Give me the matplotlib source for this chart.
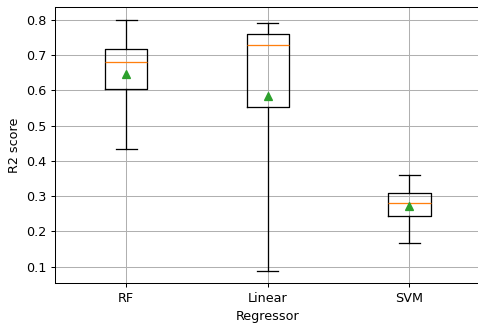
import matplotlib
matplotlib.use("Agg")
import matplotlib.pyplot as plt

labels = ["RF", "Linear", "SVM"]
whislo = [0.433, 0.088, 0.167]
q1 = [0.604, 0.553, 0.244]
med = [0.680, 0.728, 0.281]
q3 = [0.717, 0.759, 0.308]
whishi = [0.800, 0.790, 0.359]
means = [0.646, 0.585, 0.271]

stats = []
for i, lab in enumerate(labels):
    stats.append(dict(label=lab, whislo=whislo[i], q1=q1[i], med=med[i],
                      q3=q3[i], whishi=whishi[i], mean=means[i], fliers=[]))

DPI = 92
W, H = 478, 326
fig = plt.figure(figsize=(W / DPI, H / DPI), dpi=DPI)
ax = fig.add_axes([55.3 / W, 1 - 283.3 / H, 425 / W, (283.3 - 7.3) / H])
ax.bxp(stats, showmeans=True, widths=0.3)
ax.set_xlim(0.5, 3.5)
ax.grid(True)
ax.set_xlabel("Regressor")
ax.set_ylabel("R2 score")
fig.savefig("out.png", dpi=DPI)
